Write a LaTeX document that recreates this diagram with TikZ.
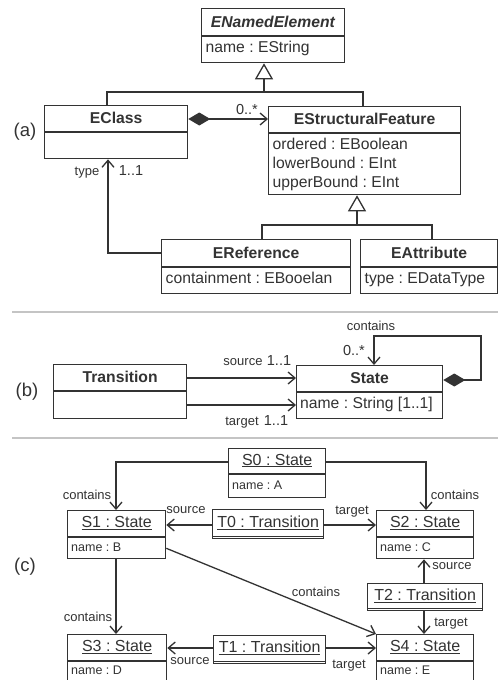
\documentclass[tikz,border=0pt]{standalone}
\usepackage{fontspec}
\setmainfont{Liberation Sans}
\usetikzlibrary{arrows.meta,calc}
\frenchspacing
\definecolor{ink}{HTML}{333333}
\definecolor{seprule}{HTML}{C4C4C4}
\tikzset{
  ln/.style={draw=ink, line width=1.3pt},
  box/.style={ln, rectangle, anchor=north west, inner sep=0pt, fill=white},
  txt/.style={inner sep=0pt, text height=.72em, text depth=0pt, text=ink},
  ctitle/.style={txt, font=\fontsize{15.7}{18}\selectfont\bfseries},
  cattr/.style={txt, anchor=west, font=\fontsize{15.7}{18}\selectfont},
  otitle/.style={txt, font=\fontsize{16}{19}\selectfont},
  oattr/.style={txt, anchor=west, font=\fontsize{12.5}{15}\selectfont},
  lbl/.style={txt, font=\fontsize{13}{15}\selectfont},
  mult/.style={txt, font=\fontsize{14.5}{17}\selectfont},
  partlbl/.style={txt, font=\fontsize{18.5}{22}\selectfont},
  assoc/.style={ln, -{Straight Barb[length=7pt,width=12pt]}},
  comp/.style={ln, {Diamond[fill=ink,length=22pt,width=13pt]}-{Straight Barb[length=7pt,width=12pt]}},
  gen/.style={ln, -{Triangle[open,fill=white,length=16pt,width=18pt]}},
  sepline/.style={draw=seprule, line width=1.5pt},
}
% name, x, y, w, h, header height, title
\newcommand\classbox[7]{%
  \node[box, minimum width=#4pt, minimum height=#5pt] (#1) at (#2,#3) {};
  \draw[ln] ($(#1.north west)+(0,#6)$) -- ($(#1.north east)+(0,#6)$);
  \node[ctitle] (#1-title) at ($(#1.north)+(0,#6/2+1.5)$) {#7};
}
\newcommand\objbox[7]{%
  \node[box, minimum width=#4pt, minimum height=#5pt] (#1) at (#2,#3) {};
  \draw[ln] ($(#1.north west)+(0,#6)$) -- ($(#1.north east)+(0,#6)$);
  \node[otitle] (#1-title) at ($(#1.north)+(0,#6/2+0.5)$) {\underline{#7}};
}
% name, x, y, w, h, title
\newcommand\linkbox[6]{%
  \node[box, minimum width=#4pt, minimum height=#5pt] (#1) at (#2,#3) {};
  \draw[ln] ($(#1.south west)+(0,-3)$) -- ($(#1.south east)+(0,-3)$);
  \node[otitle] (#1-title) at ($(#1.center)+(0,-0.5)$) {\underline{#6}};
}
\begin{document}
\begin{tikzpicture}[x=1pt, y=-1pt]
\useasboundingbox (0,0) rectangle (498,680);
\fill[white] (0,0) rectangle (498,680);

% ---------------- (a) ----------------
\node[partlbl] (pa) at (25,133) {(a)};
\classbox{ne}{201}{8}{143}{54}{28}{\textit{ENamedElement}}
\node[cattr] (ne-a1) at (205.5,49) {name : EString};
\classbox{ec}{44}{105}{143}{53}{27}{EClass}
\classbox{esf}{268}{106}{192}{88}{27}{EStructuralFeature}
\node[cattr] (esf-a1) at (272.5,146) {ordered : EBoolean};
\node[cattr] (esf-a2) at (272.5,165) {lowerBound : EInt};
\node[cattr] (esf-a3) at (272.5,184) {upperBound : EInt};
\classbox{eref}{161}{239}{189}{54}{28}{EReference}
\node[cattr] (eref-a1) at (165.5,280) {containment : EBooelan};
\classbox{eattr}{360}{239}{137}{54}{28}{EAttribute}
\node[cattr] (eattr-a1) at (364.5,280) {type : EDataType};

\coordinate (g1) at (264,92);
\draw[gen] (g1) -- (264,0 |- ne.south);
\draw[ln] (107,0 |- ec.north) |- (g1) -| (363,0 |- esf.north);

\draw[comp] (ec.east |- 0,119) -- (esf.west |- 0,119);
\node[mult] (m1) at (247,111) {0..*};

\draw[assoc] (eref.west |- 0,253) -| (108,0 |- ec.south);
\node[lbl] (l-type) at (87,172) {type};
\node[mult] (m2) at (131,172) {1..1};

\coordinate (g2) at (357,225);
\draw[gen] (g2) -- (357,0 |- esf.south);
\draw[ln] (262,0 |- eref.north) |- (g2) -| (432,0 |- eattr.north);

\draw[sepline] (12,312) -- (498,312);

% ---------------- (b) ----------------
\node[partlbl] (pb) at (27,393) {(b)};
\classbox{tr}{53}{364}{133}{54}{27}{Transition}
\classbox{st}{296}{365}{146}{53}{27}{State}
\node[cattr] (st-a1) at (300,405) {name : String [1..1]};

\draw[assoc] (tr.east |- 0,378) -- (st.west |- 0,378);
\node[lbl] (l-src) at (243,362) {source};
\node[mult] (m3) at (279,362) {1..1};
\draw[assoc] (tr.east |- 0,405) -- (st.west |- 0,405);
\node[lbl] (l-tgt) at (242,422) {target};
\node[mult] (m4) at (276,422) {1..1};

\draw[comp] (st.east |- 0,380) -- (481,380) -- (481,336) -- (374,336) -- (374,0 |- st.north);
\node[lbl] (l-cont) at (371,327) {contains};
\node[mult] (m5) at (354,352) {0..*};

\draw[sepline] (12,438) -- (498,438);

% ---------------- (c) ----------------
\node[partlbl] (pc) at (25,568) {(c)};
\objbox{s0}{228}{448}{97}{49}{26}{S0 : State}
\node[oattr] (s0-a) at (232,486) {name : A};
\objbox{s1}{67}{510}{98}{48}{27}{S1 : State}
\node[oattr] (s1-a) at (71,548) {name : B};
\objbox{s2}{376}{510}{97}{48}{27}{S2 : State}
\node[oattr] (s2-a) at (380,548) {name : C};
\objbox{s3}{67}{634}{99}{60}{27}{S3 : State}
\node[oattr] (s3-a) at (71,671) {name : D};
\objbox{s4}{376}{634}{97}{60}{27}{S4 : State}
\node[oattr] (s4-a) at (380,671) {name : E};
\linkbox{t0}{212}{509}{111}{29}{T0 : Transition}
\linkbox{t2}{367}{583}{115}{27}{T2 : Transition}
\linkbox{t1}{213}{635}{112}{28}{T1 : Transition}

\draw[assoc] (s0.west |- 0,462) -| (116,0 |- s1.north);
\node[lbl] (c1) at (87,496) {contains};
\draw[assoc] (s0.east |- 0,462) -| (426,0 |- s2.north);
\node[lbl] (c2) at (455,496) {contains};

\draw[assoc] (t0.west |- 0,525) -- (s1.east |- 0,525);
\node[lbl] (c3) at (186,510) {source};
\draw[assoc] (t0.east |- 0,525) -- (s2.west |- 0,525);
\node[lbl] (c4) at (352,511) {target};

\draw[assoc] (116,0 |- s1.south) -- (116,0 |- s3.north);
\node[lbl] (c5) at (88,618) {contains};
\draw[assoc] ($(s1.south east)+(0,-11)$) -- (s4.north west);
\node[lbl] (c6) at (316,593) {contains};

\draw[assoc] (424,0 |- t2.north) -- (424,0 |- s2.south);
\node[lbl] (c7) at (452,566) {source};
\draw[assoc] (424,0 |- t2.south) -- (424,0 |- s4.north);
\node[lbl] (c8) at (451,623) {target};

\draw[assoc] (t1.west |- 0,648) -- (s3.east |- 0,648);
\node[lbl] (c9) at (190,661) {source};
\draw[assoc] (t1.east |- 0,648) -- (s4.west |- 0,648);
\node[lbl] (c10) at (349,665) {target};
\end{tikzpicture}
\end{document}
